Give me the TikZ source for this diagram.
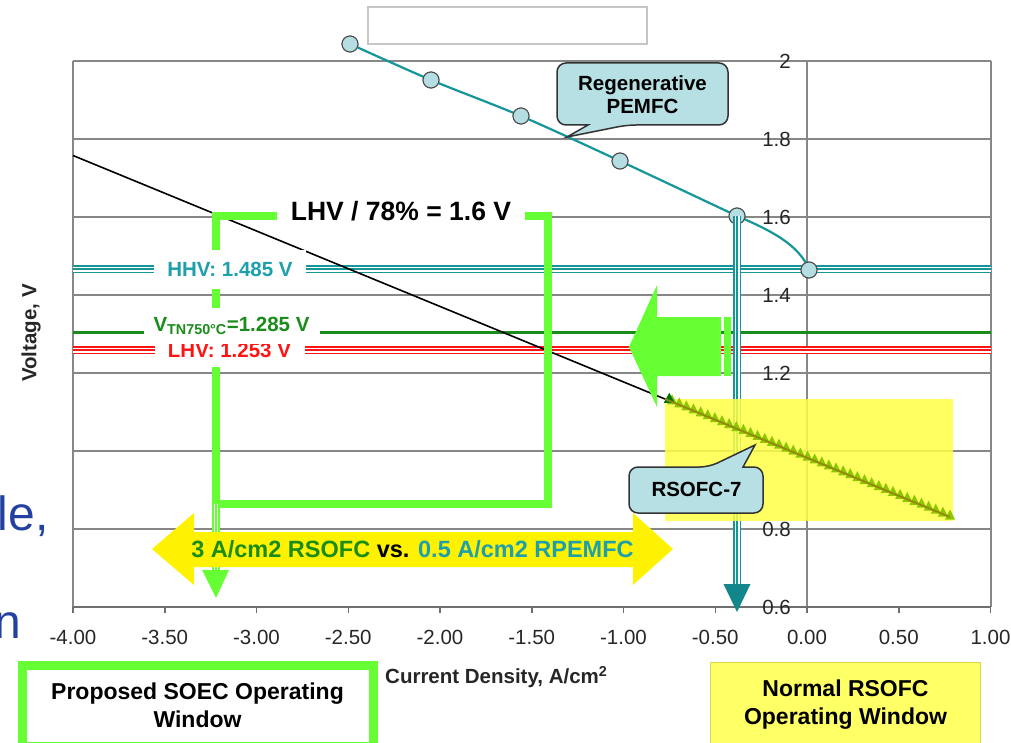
\documentclass[tikz,border=0pt]{standalone}
\usepackage{fontspec}
\setmainfont{Liberation Sans}
\usetikzlibrary{calc}
\definecolor{tealc}{RGB}{20,150,155}
\definecolor{tealtxt}{RGB}{30,160,170}
\definecolor{dgreen}{RGB}{25,140,25}
\definecolor{bgreen}{RGB}{102,255,51}
\definecolor{calfill}{RGB}{183,224,228}
\definecolor{dotfill}{RGB}{181,222,226}
\definecolor{gridc}{RGB}{135,135,135}
\definecolor{axisc}{RGB}{110,110,110}
\definecolor{slideblue}{RGB}{35,65,160}
\definecolor{ybox}{RGB}{255,255,70}
\definecolor{nbox}{RGB}{255,255,102}
\definecolor{nboxd}{RGB}{215,215,80}
\definecolor{olivec}{RGB}{150,135,20}
\definecolor{mgreen}{RGB}{140,200,0}
\definecolor{redc}{RGB}{255,20,20}
\begin{document}
\begin{tikzpicture}[x=1pt,y=-1pt,
  gridline/.style={draw=gridc,line width=1.4pt},
  axisline/.style={draw=axisc,line width=1.5pt},
  ticklbl/.style={inner sep=0pt,text=black!85,font=\fontsize{20.5}{24}\selectfont},
  reflbl/.style={fill=white,inner sep=0pt,font=\fontsize{20.5}{24}\selectfont\bfseries},
  tripleteal/.style={draw=tealc,line width=8.5pt,postaction={draw=white,line width=5pt},postaction={draw=tealc,line width=1.5pt}},
  triplered/.style={draw=redc,line width=8.5pt,postaction={draw=white,line width=5pt},postaction={draw=redc,line width=1.5pt}},
  triplegreen/.style={draw=bgreen,line width=8pt,postaction={draw=white,line width=4.5pt},postaction={draw=bgreen,line width=1.5pt}},
  dot/.style={circle,draw=black!70,line width=1pt,fill=dotfill,minimum size=16pt,inner sep=0pt},
  callshape/.style={fill=calfill,draw=black!80,line width=1.5pt},
  calltext/.style={align=center,inner sep=0pt,font=\fontsize{20.5}{23}\selectfont\bfseries},
  boxtext/.style={align=center,inner sep=0pt,font=\fontsize{23}{28.5}\selectfont\bfseries},
]
\useasboundingbox (0,0) rectangle (1011,743);

% slide text fragments
\node[anchor=base west,inner sep=0pt,text=slideblue,font=\fontsize{48}{56}\selectfont] (frag1) at (-2.5,530) {le,};
\node[anchor=base east,inner sep=0pt,text=slideblue,font=\fontsize{48}{56}\selectfont] (frag2) at (21,638) {n};

% empty legend box
\node[draw=gray!45,line width=1.2pt,minimum width=279pt,minimum height=37pt,inner sep=0pt] (legend) at (507.5,25.5) {};

% grid
\foreach \y in {61,139,217,295,373,451,529} \draw[gridline] (73,\y) -- (991,\y);
\draw[gridline] (73,61) -- (73,607);
\draw[gridline] (807,61) -- (807,607);
\draw[gridline] (991,61) -- (991,607);
\draw[axisline] (73,607) -- (991,607);
\foreach \k in {0,...,10} \draw[axisline] ({73+91.75*\k},607) -- ++(0,6);

% reference lines
\coordinate (hhvL) at (73,269); \coordinate (hhvR) at (991,269);
\coordinate (tnL) at (73,332);  \coordinate (tnR) at (991,332);
\coordinate (lhvL) at (73,350); \coordinate (lhvR) at (991,350);
\draw[tripleteal] (hhvL) -- (hhvR);
\draw[dgreen,line width=3pt] (tnL) -- (tnR);
\draw[triplered] (lhvL) -- (lhvR);

% black fit line
\coordinate (blk0) at (73,155.5);
\coordinate (rs0) at (665,399);
\coordinate (rs1) at (950,517);
\draw[black,line width=1.6pt] (blk0) -- (rs0);

% green bracket
\coordinate (g1) at (216,504); \coordinate (g2) at (216,216);
\coordinate (g3) at (548,216); \coordinate (g4) at (548,504);
\draw[bgreen,line width=8pt,line join=miter] (g1) -- (g2) -- (g3) -- (g4) -- cycle;
\coordinate (ga) at (216,572);
\draw[triplegreen] (g1) -- (ga);
\fill[bgreen] (ga) ++(-14,-2) -- ++(27,0) -- (216,598) -- cycle;

% PEMFC curve
\node[dot] (p1) at (350,44) {};
\node[dot] (p2) at (431,80) {};
\node[dot] (p3) at (521,116) {};
\node[dot] (p4) at (620,161) {};
\node[dot] (p5) at (737,216) {};
\node[dot] (p6) at (809,270) {};
\draw[tealc,line width=2.2pt] plot[smooth,tension=0.5] coordinates {(p1.center) (p2.center) (p3.center) (p4.center) (p5.center)} .. controls (770,230) and (800,245) .. (p6.center);
\foreach \p in {p1,p2,p3,p4,p5,p6} \node[dot] at (\p) {};

% teal down arrow
\coordinate (ta) at (737,586);
\draw[tripleteal] (p5.center) -- (ta);
\fill[tealc!90!black] (ta) ++(-13.5,-2) -- ++(27,0) -- (737,612) -- cycle;

% labels on reference lines
\node[reflbl,font=\fontsize{26.5}{30}\selectfont\bfseries,minimum width=248pt,minimum height=36pt] (l78) at (401,211) {LHV / 78\% = 1.6 V};
\node[reflbl,text=tealtxt,minimum width=152pt,minimum height=38pt] (hhv) at (230,269.5) {HHV: 1.485 V};
\node[reflbl,text=redc,minimum width=150pt,minimum height=33pt] (lhv) at (229.5,350.5) {LHV: 1.253 V};
\node[reflbl,text=dgreen,minimum width=176pt,minimum height=36pt] (vtn) at (231.5,326) {V\textsubscript{TN750°C}=1.285 V};

% yellow double arrow
\fill[yellow] (152,549) -- (194,513) -- (194,532) -- (633,532) -- (633,513) -- (673,549) -- (633,585) -- (633,567) -- (194,567) -- (194,585) -- cycle;
\node[inner sep=0pt,font=\fontsize{23.5}{28}\selectfont\bfseries] (cmp) at (412.5,549) {\textcolor{dgreen}{3 A/cm2 RSOFC} vs. \textcolor{tealtxt}{0.5 A/cm2 RPEMFC}};

% big green left arrow
\fill[bgreen] (629,347) -- (657,285) -- (657,317) -- (721,317) -- (721,376) -- (657,376) -- (657,407) -- cycle;
\fill[bgreen] (723.5,317) rectangle (731,376);

% RSOFC operating window box and curve
\fill[ybox,opacity=0.85] (665,399) rectangle (953,521);
\foreach \i in {1,...,40} \fill[mgreen] ($(rs0)!{\i/40}!(rs1)$) ++(0,-7.5) -- ++(5,10) -- ++(-10,0) -- cycle;
\fill[green!45!black] ($(rs0)!0.015!(rs1)$) ++(0,-8) -- ++(5.5,10) -- ++(-11,0) -- cycle;
\draw[olivec,line width=1.8pt] (rs0) -- (rs1);

% callouts
\draw[callshape] (642,63) [rounded corners=9pt] -- (728,63) -- (728,125) -- (627,125) [sharp corners] -- (567,137) -- (588,125) [rounded corners=9pt] -- (557,125) -- (557,63) -- cycle;
\node[calltext] (rptxt) at (642.5,94.5) {Regenerative\\PEMFC};
\draw[callshape] (696,513) [rounded corners=9pt] -- (629,513) -- (629,467) -- (709,467) [sharp corners] -- (755,445) -- (743,467) [rounded corners=9pt] -- (763,467) -- (763,513) -- cycle;
\node[calltext] (rstxt) at (696.5,489) {RSOFC-7};

% tick labels
\foreach \v [count=\k from 0] in {-4.00,-3.50,-3.00,-2.50,-2.00,-1.50,-1.00,-0.50,0.00,0.50,1.00}
  \node[ticklbl] (xl\k) at ({73+91.75*\k},637) {\v};
\foreach \v/\y [count=\k] in {2/61,1.8/139,1.6/217,1.4/295,1.2/373,0.8/529,0.6/607}
  \node[ticklbl,anchor=east] (yl\k) at (791,\y) {\v};

% axis titles
\node[inner sep=0pt,anchor=west,font=\fontsize{20.5}{24}\selectfont\bfseries,text=black!85] (xtitle) at (385,677) {Current Density, A/cm\textsuperscript{2}};
\node[inner sep=0pt,rotate=90,font=\fontsize{20.5}{24}\selectfont\bfseries,text=black!85] (ytitle) at (31,333) {Voltage, V};

% bottom boxes
\node[draw=bgreen,line width=9pt,fill=white,minimum width=351pt,minimum height=81pt,anchor=north west,boxtext] (soec) at (17.5,660.5) {Proposed SOEC Operating\\Window};
\node[draw=nboxd,line width=1pt,fill=nbox,minimum width=270pt,minimum height=84pt,anchor=north west,boxtext] (nrm) at (710,662) {Normal RSOFC\\Operating Window};
\end{tikzpicture}
\end{document}
